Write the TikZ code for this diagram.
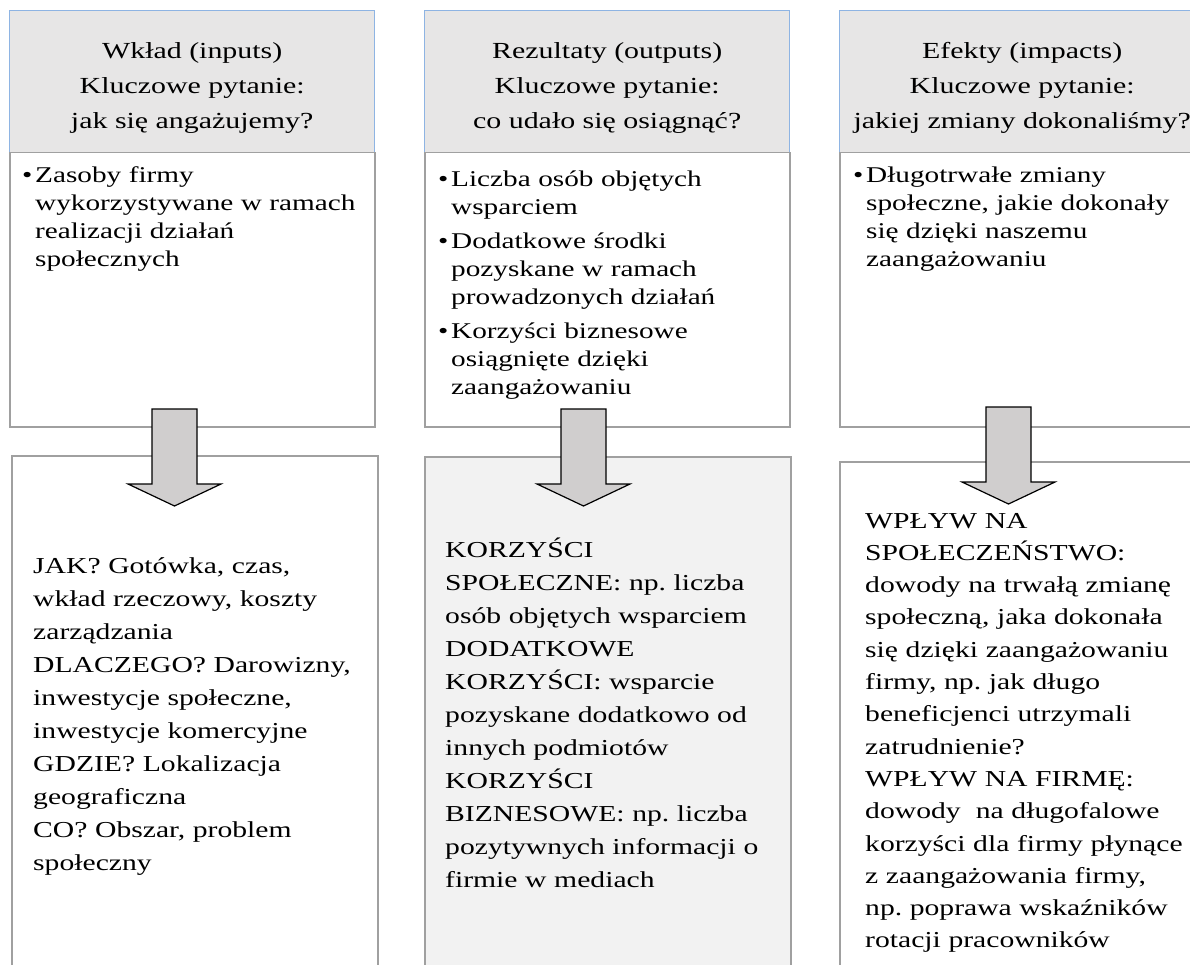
\documentclass[tikz,border=0pt]{standalone}
\usepackage{fontspec}
\setmainfont[FakeStretch=1.3]{Liberation Serif}
\usetikzlibrary{positioning}
\frenchspacing

\definecolor{headfill}{HTML}{E7E6E6}
\definecolor{headline}{HTML}{8EB4E3}
\definecolor{boxline}{HTML}{A0A0A0}
\definecolor{arrfill}{HTML}{D0CECE}
\definecolor{resfill}{HTML}{F2F2F2}

\newcommand{\bul}{\makebox[13pt][l]{•}}
\newcommand{\ind}{\hspace*{13pt}}

\begin{document}
\begin{tikzpicture}[x=1pt, y=1pt,
    head/.style={draw=headline, fill=headfill, line width=1.4pt, anchor=north west,
      minimum width=365pt, minimum height=142pt, inner sep=0pt, align=center,
      font=\fontsize{23}{35}\selectfont},
    list/.style={draw=boxline, fill=white, line width=1.5pt, anchor=north west,
      minimum width=365pt, minimum height=274pt, inner sep=0pt},
    effect/.style={draw=boxline, line width=1.5pt, anchor=north west,
      minimum width=366pt, minimum height=530pt, inner sep=0pt},
    listtext/.style={anchor=base west, inner sep=0pt, text width=345pt, align=left,
      font=\fontsize{22.5}{28}\selectfont},
    effecttext/.style={anchor=base west, inner sep=0pt, text width=345pt, align=left,
      font=\fontsize{22.8}{33}\selectfont},
    blockarrow/.style={draw=black, fill=arrfill, line width=1.2pt, line join=miter}]
  \clip (0,0) rectangle (1190,-965);

  % top row
  \node[head] (wklad)     at (9,-10)   {\\[-6pt]Wkład (inputs)\\Kluczowe pytanie:\\jak się angażujemy?};
  \node[head] (rezultaty) at (424,-10) {\\[-6pt]Rezultaty (outputs)\\Kluczowe pytanie:\\co udało się osiągnąć?};
  \node[head] (efekty)    at (839,-10) {\\[-6pt]Efekty (impacts)\\Kluczowe pytanie:\\jakiej zmiany dokonaliśmy?};

  % lists
  \node[list] (wkladlist)     at (9,-152)   {};
  \node[list] (rezultatylist) at (424,-152) {};
  \node[list] (efektylist)    at (839,-152) {};
  \node[listtext] (wkladtxt) at ([shift={(13,-31)}]wkladlist.north west)
    {\bul Zasoby firmy\\ \ind wykorzystywane w ramach\\ \ind realizacji działań\\ \ind społecznych};
  \node[listtext] (rezultatytxt) at ([shift={(14,-35)}]rezultatylist.north west)
    {\bul Liczba osób objętych\\ \ind wsparciem\\[6pt]
     \bul Dodatkowe środki\\ \ind pozyskane w ramach\\ \ind prowadzonych działań\\[6pt]
     \bul Korzyści biznesowe\\ \ind osiągnięte dzięki\\ \ind zaangażowaniu};
  \node[listtext] (efektytxt) at ([shift={(14,-31)}]efektylist.north west)
    {\bul Długotrwałe zmiany\\ \ind społeczne, jakie dokonały\\ \ind się dzięki naszemu\\ \ind zaangażowaniu};

  % bottom row
  \node[effect] (jak)       at (11,-455)  {};
  \node[effect, fill=resfill] (korzysci) at (424,-456) {};
  \node[effect] (wplyw)     at (839,-461) {};
  \node[effecttext] (jaktxt) at ([shift={(22,-118)}]jak.north west)
    {JAK? Gotówka, czas,\\wkład rzeczowy, koszty\\zarządzania\\DLACZEGO? Darowizny,\\inwestycje społeczne,\\inwestycje komercyjne\\GDZIE? Lokalizacja\\geograficzna\\CO? Obszar, problem\\społeczny};
  \node[effecttext] (korzyscitxt) at ([shift={(21,-101)}]korzysci.north west)
    {KORZYŚCI\\SPOŁECZNE: np. liczba\\osób objętych wsparciem\\DODATKOWE\\KORZYŚCI: wsparcie\\pozyskane dodatkowo od\\innych podmiotów\\KORZYŚCI\\BIZNESOWE: np. liczba\\pozytywnych informacji o\\firmie w mediach};
  \node[effecttext, font=\fontsize{22.8}{32.3}\selectfont] (wplywtxt) at ([shift={(26,-67)}]wplyw.north west)
    {WPŁYW NA\\SPOŁECZEŃSTWO:\\dowody na trwałą zmianę\\społeczną, jaka dokonała\\się dzięki zaangażowaniu\\firmy, np. jak długo\\beneficjenci utrzymali\\zatrudnienie?\\WPŁYW NA FIRMĘ:\\dowody\ \ na długofalowe\\korzyści dla firmy płynące\\z zaangażowania firmy,\\np. poprawa wskaźników\\rotacji pracowników};

  % arrows
  \coordinate (arrA) at (174.5,-409);
  \coordinate (arrB) at (583.5,-409);
  \coordinate (arrC) at (1008.5,-407);
  \foreach \a in {arrA, arrB, arrC}
    \draw[blockarrow] (\a) ++(-22.5,0) -- ++(45,0) -- ++(0,-75) -- ++(24,0)
      -- ++(-46.5,-22) -- ++(-46.5,22) -- ++(24,0) -- cycle;
\end{tikzpicture}
\end{document}
